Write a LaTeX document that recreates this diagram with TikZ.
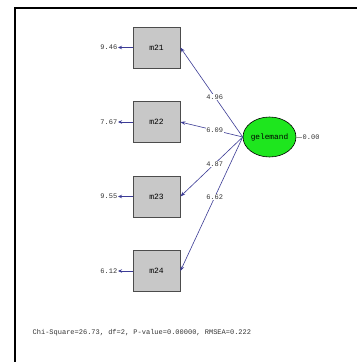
\documentclass[tikz,border=0pt]{standalone}
\usepackage{fontspec}
\setmonofont{Liberation Mono}
\usetikzlibrary{arrows.meta,shapes.geometric}
\definecolor{pathblue}{HTML}{3C3C96}
\definecolor{boxgray}{HTML}{C8C8C8}
\definecolor{latgreen}{HTML}{1EE61E}
\tikzset{
  x=1pt, y=-1pt,
  obs/.style={draw=black!70, fill=boxgray, line width=0.8pt, minimum width=47pt, minimum height=41pt, inner sep=0pt, font=\ttfamily\fontsize{8}{9}\selectfont},
  lat/.style={ellipse, draw=black, fill=latgreen, line width=0.6pt, minimum width=47pt, minimum height=40pt, inner sep=0pt, font=\ttfamily\fontsize{7.8}{9}\selectfont},
  small/.style={font=\ttfamily\fontsize{7}{8}\selectfont, text=black!80, inner sep=0.5pt},
  path/.style={draw=pathblue, line width=0.6pt, -{Stealth[length=5pt,width=3.5pt]}},
  errarr/.style={draw=pathblue, line width=0.9pt, -{Stealth[length=4pt,width=3.5pt]}},
  lbl/.style={small, fill=white},
}
\begin{document}
\begin{tikzpicture}
\useasboundingbox (0,0) rectangle (357,362);
\fill[white] (0,0) rectangle (357,362);
\draw[line width=2pt] (15,362) -- (15,8) -- (357,8);

\node[obs] (m21) at (156.5,47.5) {m21};
\node[obs] (m22) at (156.5,122) {m22};
\node[obs] (m23) at (156.5,196.5) {m23};
\node[obs] (m24) at (156.5,271) {m24};
\node[lat] (g) at (269.5,137) {gelemand};

\node[small, anchor=east] (e21) at (118,47.5) {9.46};
\node[small, anchor=east] (e22) at (118,122) {7.67};
\node[small, anchor=east] (e23) at (118,196.5) {9.55};
\node[small, anchor=east] (e24) at (118,271) {6.12};
\draw[errarr] (m21.west) -- (e21.east);
\draw[errarr] (m22.west) -- (e22.east);
\draw[errarr] (m23.west) -- (e23.east);
\draw[errarr] (m24.west) -- (e24.east);

\coordinate (gw) at (g.west);
\draw[path] (gw) -- node[lbl, pos=0.45] {4.96} (m21.east);
\draw[path] (gw) -- node[lbl, pos=0.45] {6.09} (m22.east);
\draw[path] (gw) -- node[lbl, pos=0.45] {4.87} (m23.east);
\draw[path] (gw) -- node[lbl, pos=0.45] {6.62} (m24.east);

\node[small, anchor=west] (z) at (302,137) {0.00};
\draw[black!40, line width=0.4pt] (g.east) -- (z.west);

\node[small, anchor=west] (fit) at (32,333) {Chi-Square=26.73, df=2, P-value=0.00000, RMSEA=0.222};
\end{tikzpicture}
\end{document}
